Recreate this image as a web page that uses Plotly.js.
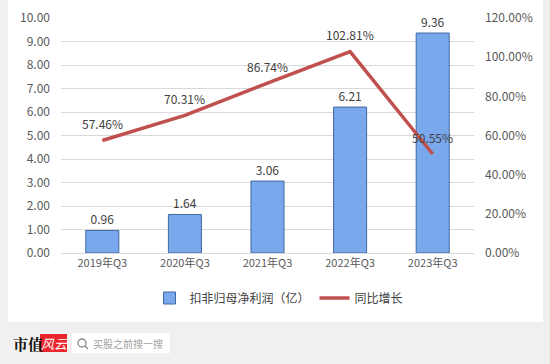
<!DOCTYPE html>
<html>
<head>
<meta charset="utf-8">
<script src="https://cdn.plot.ly/plotly-3.0.1.min.js"></script>
<style>html,body{margin:0;padding:0;background:#f0f0f0;}#chart{width:550px;height:364px;}</style>
</head>
<body>
<div id="chart"></div>
<script>
const categories = ["2019年Q3", "2020年Q3", "2021年Q3", "2022年Q3", "2023年Q3"];
const profit = [0.96, 1.64, 3.06, 6.21, 9.36];
const growth = [0.5746, 0.7031, 0.8674, 1.0281, 0.5055];
const profitLabels = ["0.96", "1.64", "3.06", "6.21", "9.36"];
const growthLabels = ["57.46%", "70.31%", "86.74%", "102.81%", "50.55%"];

const F = '"Noto Sans CJK SC", "Noto Sans", sans-serif';
const W = 413, H = 235, L = 61, T = 18;
const px = x => (x - L) / W;
const py = y => (T + H - y) / H;

const traces = [
  {
    type: 'bar', name: '扣非归母净利润（亿）', x: categories, y: profit,
    text: profitLabels, textposition: 'outside', cliponaxis: false,
    textfont: {family: F, size: 12, color: '#404040'},
    marker: {color: '#7aa8ec', line: {color: '#41689f', width: 1}},
    width: 0.4, hoverinfo: 'x+y'
  },
  {
    type: 'scatter', mode: 'lines', name: '同比增长', x: categories, y: growth,
    yaxis: 'y2', cliponaxis: false,
    line: {color: '#c0504d', width: 3.5}
  }
];

const wm = [[250, 95], [120, 170], [40, 250], [360, 200], [510, 140], [470, 340], [250, 330]];
const annotations = wm.map(p => ({
  xref: 'paper', yref: 'paper', x: px(p[0]), y: py(p[1]), text: '市值风云', showarrow: false,
  textangle: -35, font: {family: F, size: 26, color: 'rgba(0,0,0,0.018)'}
}));
categories.forEach((c, i) => annotations.push({
  xref: 'x', yref: 'y2', x: c, y: growth[i], text: growthLabels[i], showarrow: false,
  yanchor: 'middle', yshift: 17, font: {family: F, size: 12, color: '#404040'}
}));
annotations.push(
  {xref: 'paper', yref: 'paper', x: px(11), y: py(343), xanchor: 'left', yanchor: 'middle', text: '<b>市值</b>', showarrow: false,
   font: {family: '"Noto Serif CJK SC", "Noto Sans CJK SC", serif', size: 15, color: '#111'}},
  {xref: 'paper', yref: 'paper', x: px(54), y: py(343), xanchor: 'center', yanchor: 'middle', text: '<i>风云</i>', showarrow: false,
   font: {family: F, size: 13, color: '#ffffff'}},
  {xref: 'paper', yref: 'paper', x: px(91), y: py(343), xanchor: 'left', yanchor: 'middle', text: '买股之前搜一搜', showarrow: false,
   font: {family: F, size: 10, color: '#a0a0a0'}}
);

const shapes = [
  {type: 'rect', layer: 'below', xref: 'paper', yref: 'paper', x0: px(8), x1: px(543), y0: py(322), y1: py(-2),
   fillcolor: '#ffffff', line: {width: 0}},
  {type: 'rect', layer: 'above', xref: 'paper', yref: 'paper', x0: px(40), x1: px(67), y0: py(352), y1: py(334),
   fillcolor: '#e8262b', line: {width: 0}},
  {type: 'rect', layer: 'above', xref: 'paper', yref: 'paper', x0: px(72), x1: px(170), y0: py(353), y1: py(333),
   fillcolor: '#ffffff', line: {width: 0}},
  {type: 'circle', layer: 'above', xref: 'paper', yref: 'paper', x0: px(78), x1: px(86), y0: py(347), y1: py(339),
   line: {color: '#888', width: 1.3}},
  {type: 'line', layer: 'above', xref: 'paper', yref: 'paper', x0: px(85), x1: px(88), y0: py(346), y1: py(349),
   line: {color: '#888', width: 1.3}}
];

const layout = {
  width: 550, height: 364,
  margin: {l: L, r: 550 - L - W, t: T, b: 364 - T - H, pad: 0},
  paper_bgcolor: '#f0f0f0', plot_bgcolor: 'rgba(0,0,0,0)',
  font: {family: F, size: 12, color: '#595959'},
  showlegend: true,
  legend: {orientation: 'h', x: px(279), xanchor: 'center', y: py(298), yanchor: 'middle',
           font: {family: F, size: 12, color: '#404040'}, bgcolor: 'rgba(0,0,0,0)', traceorder: 'normal'},
  xaxis: {type: 'category', tickfont: {family: F, size: 11, color: '#595959'}, showline: true, linecolor: '#d9d9d9',
          ticks: '', showgrid: false, fixedrange: true},
  yaxis: {range: [0, 10], dtick: 1, tickformat: '.2f', showgrid: true, gridcolor: '#d9d9d9', gridwidth: 1,
          zeroline: false, ticks: '', tickfont: {family: F, size: 12, color: '#595959'}, ticklabelstandoff: 10},
  yaxis2: {range: [0, 1.2], dtick: 0.2, tickformat: '.2%', overlaying: 'y', side: 'right', showgrid: false,
           zeroline: false, ticks: '', tickfont: {family: F, size: 12, color: '#595959'}, ticklabelstandoff: 10},
  shapes: shapes,
  annotations: annotations
};

Plotly.newPlot('chart', traces, layout, {displayModeBar: false, staticPlot: true});
</script>
</body>
</html>
